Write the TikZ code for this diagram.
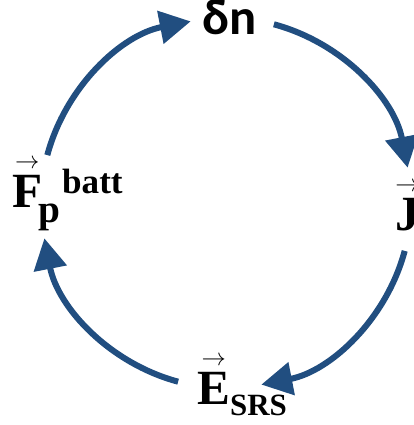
\documentclass[tikz,border=0pt]{standalone}
\usepackage{amsmath}
\usepackage{fontspec}
\setmainfont{Liberation Serif}
\newfontfamily\calib{Carlito}
\usepackage{xcolor}
\usepackage{tikz}
\usetikzlibrary{arrows.meta}
\definecolor{cycblue}{RGB}{33,78,128}
\newcommand{\vecbf}[1]{$\overset{\scriptscriptstyle\rightarrow}{\mbox{#1}}$}

\begin{document}
\begin{tikzpicture}[
  x=0.025cm,
  y=0.025cm,
  cyc/.style={draw=cycblue, line width=4.3pt, -{Triangle[length=22pt,width=23pt]}},
  lbl/.style={anchor=base west, inner sep=0pt, font=\fontsize{35}{40}\selectfont\bfseries}
]
  \useasboundingbox (0,0) rectangle (413,425);
  \coordinate (ctr) at (226,222);

  % labels round the loop
  \node[lbl, font=\calib\bfseries\fontsize{36}{40}\selectfont] (dn) at (202,390) {δn};
  \node[lbl] (Fp) at (12,217)
    {\vecbf{F}\kern-2.5pt\raisebox{-10.5pt}{\fontsize{28}{30}\selectfont p}\kern1pt\raisebox{10.5pt}{\fontsize{25}{28}\selectfont batt}};
  \node[lbl] (Esrs) at (197,20)
    {\vecbf{E}\raisebox{-7.8pt}{\fontsize{22}{24}\selectfont SRS}};
  \node[lbl] (Jv) at (395,194) {\vecbf{J}};

  % the four arcs
  \foreach \s [count=\i from 1] in {165,75,-15,-105} {
    \path (ctr) ++(\s:185) coordinate (a\i);
    \draw[cyc] (a\i) arc[start angle=\s, end angle=\s-64, radius=185];
  }
\end{tikzpicture}
\end{document}
